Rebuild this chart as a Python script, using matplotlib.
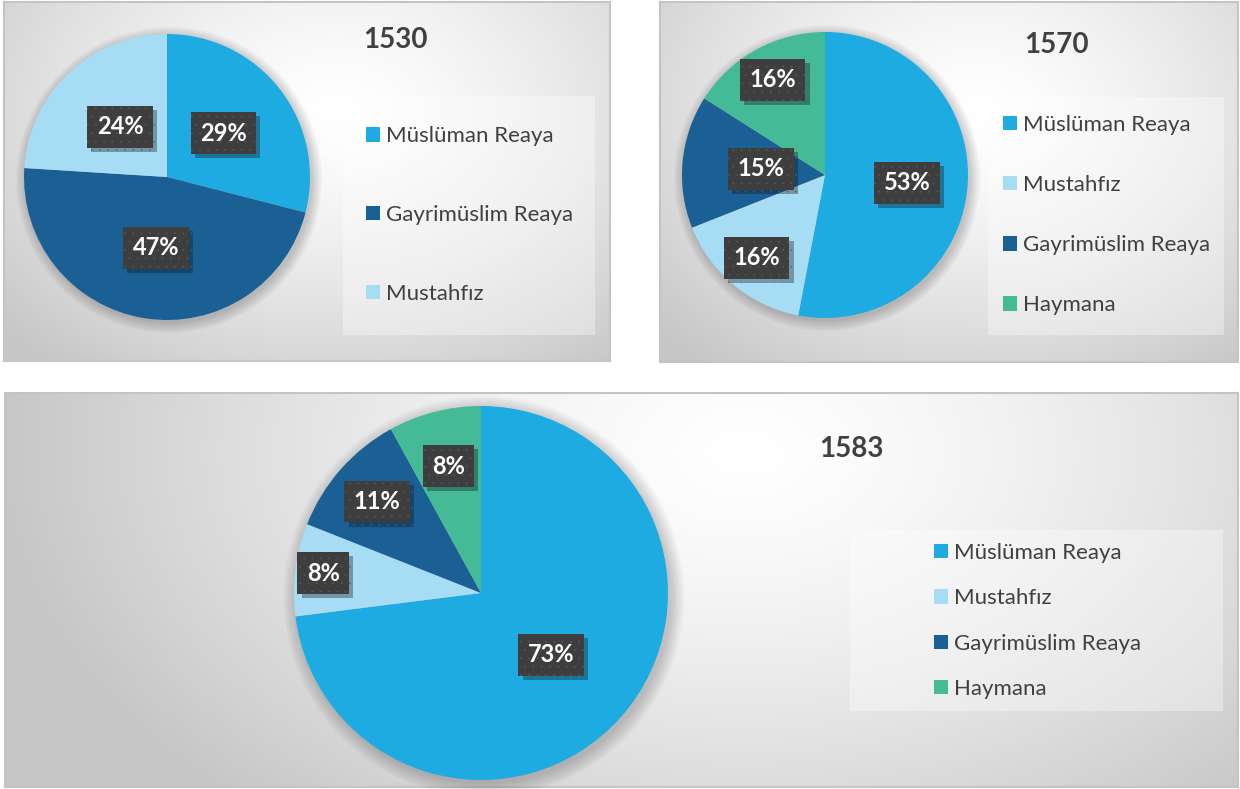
import numpy as np
import matplotlib
matplotlib.use("Agg")
import matplotlib.pyplot as plt
import matplotlib.patheffects as pe
from matplotlib.patches import Rectangle, Patch, Circle
from matplotlib.transforms import Affine2D

W, H = 1240, 789

# data
labels_1530 = ["Müslüman Reaya", "Gayrimüslim Reaya", "Mustahfız"]
values_1530 = [29, 47, 24]
labels_1570 = ["Müslüman Reaya", "Mustahfız", "Gayrimüslim Reaya", "Haymana"]
values_1570 = [53, 16, 15, 16]
labels_1583 = ["Müslüman Reaya", "Mustahfız", "Gayrimüslim Reaya", "Haymana"]
values_1583 = [73, 8, 11, 8]

colors = {
    "Müslüman Reaya": "#1eabe2",
    "Gayrimüslim Reaya": "#1b6094",
    "Mustahfız": "#a6ddf4",
    "Haymana": "#44ba97",
}

# layout in pixels (origin top-left)
panels = [
    dict(title="1530", labels=labels_1530, values=values_1530,
         box=(4, 2, 610, 361), center=(167, 177), r=143, title_xy=(395, 40),
         leg_box=(343, 96, 595, 335), leg_xy=(366, 215), spacing=2.65,
         dists=[0.5, 0.5, 0.48], grad=(0.55, 0.3, 0.75, 0.9)),
    dict(title="1570", labels=labels_1570, values=values_1570,
         box=(660, 2, 1238, 362), center=(825, 175), r=143, title_xy=(1057, 45),
         leg_box=(988, 97, 1224, 335), leg_xy=(1003, 215), spacing=1.81,
         dists=[0.575, 0.75, 0.45, 0.76], grad=(0.55, 0.3, 0.75, 0.9)),
    dict(title="1583", labels=labels_1583, values=values_1583,
         box=(5, 393, 1238, 787), center=(481, 593), r=187, title_xy=(851, 449),
         leg_box=(850, 530, 1223, 711), leg_xy=(934, 621), spacing=1.14,
         dists=[0.5, 0.85, 0.74, 0.70], grad=(0.6, 0.15, 0.6, 1.2)),
]

plt.rcParams["font.family"] = ["Lato", "DejaVu Sans"]
plt.rcParams["hatch.linewidth"] = 0.0

fig = plt.figure(figsize=(W / 100, H / 100), dpi=100)
tpx = Affine2D().scale(1 / W, -1 / H).translate(0, 1) + fig.transFigure


def gradient(wpx, hpx, u, v, a, b, grey=0.78):
    X, Y = np.meshgrid(np.linspace(0, 1, wpx), np.linspace(0, 1, hpx))
    d = np.sqrt(((X - u) / a) ** 2 + ((Y - v) / b) ** 2)
    c = 1 - (1 - grey) * np.clip(d, 0, 1) ** 1.4
    return np.dstack([c, c, c])


for p in panels:
    x0, y0, x1, y1 = p["box"]
    ax_bg = fig.add_axes([x0 / W, 1 - y1 / H, (x1 - x0) / W, (y1 - y0) / H])
    ax_bg.imshow(gradient(x1 - x0, y1 - y0, *p["grad"]), extent=(0, 1, 0, 1),
                 aspect="auto", interpolation="bilinear")
    ax_bg.set_xlim(0, 1)
    ax_bg.set_ylim(0, 1)
    ax_bg.set_xticks([])
    ax_bg.set_yticks([])
    for s in ax_bg.spines.values():
        s.set_color("#c4c4c4")
        s.set_linewidth(1.5)

    lx0, ly0, lx1, ly1 = p["leg_box"]
    ax_bg.add_patch(Rectangle((lx0, ly0), lx1 - lx0, ly1 - ly0, transform=tpx,
                              facecolor="white", alpha=0.35, lw=0, clip_on=False))

    handles = [Patch(facecolor=colors[l], edgecolor="none") for l in p["labels"]]
    ax_bg.legend(handles, p["labels"], loc="center left",
                 bbox_to_anchor=p["leg_xy"], bbox_transform=tpx,
                 frameon=False, fontsize=16, labelcolor="#404040",
                 handlelength=0.63, handleheight=0.63, handletextpad=0.27,
                 borderpad=0, borderaxespad=0, labelspacing=p["spacing"])

    fig.text(*p["title_xy"], p["title"], transform=tpx, ha="center", va="center",
             fontsize=20, fontweight="bold", color="#404040")

    cx, cy = p["center"]
    r = p["r"]
    ax = fig.add_axes([(cx - r) / W, 1 - (cy + r) / H, 2 * r / W, 2 * r / H])
    for k in range(10):
        ax.add_patch(Circle((0.015, -0.02), 1 + 0.008 * k, facecolor="black",
                            alpha=0.018, lw=0, clip_on=False))
    wedges, _, autotexts = ax.pie(
        p["values"], colors=[colors[l] for l in p["labels"]],
        startangle=90, counterclock=False,
        autopct=lambda v: f"{v:.0f}%", pctdistance=0.5,
        wedgeprops=dict(linewidth=0),
        textprops=dict(color="white", fontsize=17, fontweight="bold"))
    for t, d in zip(autotexts, p["dists"]):
        tx, ty = t.get_position()
        t.set_position((tx * d / 0.5, ty * d / 0.5))
        t.set_bbox(dict(boxstyle="square,pad=0.4", facecolor="#3e3e3e",
                        edgecolor="#5c5c5c", linewidth=0, hatch=".."))
        t.get_bbox_patch().set_path_effects(
            [pe.SimplePatchShadow(offset=(3, -3), alpha=0.35), pe.Normal()])
    ax.set_xlim(-1, 1)
    ax.set_ylim(-1, 1)
    ax.set_aspect("equal")
    ax.axis("off")

fig.savefig("out.png", dpi=100, facecolor="white")
